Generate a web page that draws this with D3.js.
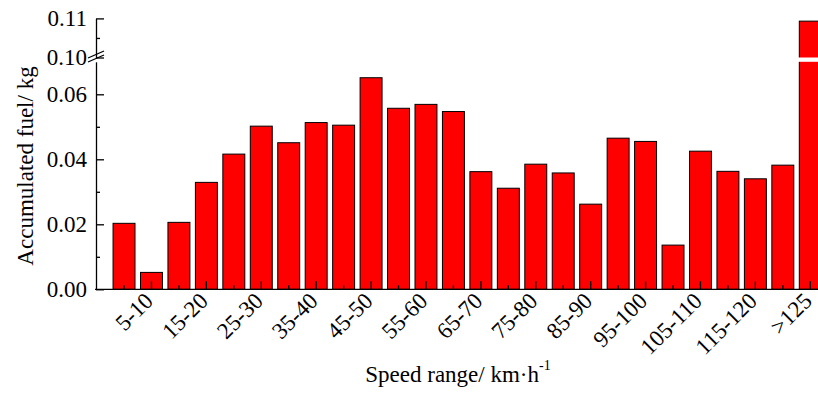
<!DOCTYPE html>
<html>
<head>
<meta charset="utf-8">
<script src="https://cdn.jsdelivr.net/npm/d3@7"></script>
<style>
    body { margin: 0; background: #fff; }
    svg { display: block; }
</style>
</head>
<body>
<script>
// speed bins and accumulated fuel (kg)
const categories = ["0-5", "5-10", "10-15", "15-20", "20-25", "25-30", "30-35", "35-40",
    "40-45", "45-50", "50-55", "55-60", "60-65", "65-70", "70-75", "75-80", "80-85",
    "85-90", "90-95", "95-100", "100-105", "105-110", "110-115", "115-120", "120-125", ">125"];
const fuel = [0.0203, 0.0052, 0.0206, 0.0329, 0.0416, 0.0502, 0.0451, 0.0513, 0.0505,
    0.0651, 0.0557, 0.0569, 0.0547, 0.0362, 0.0311, 0.0385, 0.0358, 0.0262, 0.0465,
    0.0455, 0.0136, 0.0425, 0.0363, 0.0340, 0.0382, 0.1093];

const lowerTicks = [0, 0.02, 0.04, 0.06];
const lowerMinor = [0.01, 0.03, 0.05];
const upperTicks = [0.10, 0.11];
const upperMinor = [0.105];

const width = 818;
const height = 397;
const font = "Liberation Serif";

let svg = d3.select("body")
    .append("svg")
    .attr("width", width)
    .attr("height", height);

let axisX = 96;
let baseY = 289.3;

let x = d3.scaleBand()
    .domain(categories)
    .range([110.3, 824])
    .paddingInner(0.2)
    .paddingOuter(0.1);

// broken y axis: two linear pieces
let yLow = d3.scaleLinear().domain([0, 0.07]).range([baseY, 61.8]);
let yHigh = d3.scaleLinear().domain([0.10, 0.11]).range([57.5, 18.4]);
let yPos = v => v <= 0.07 ? yLow(v) : yHigh(v);

let data = categories.map((c, i) => ({ cat: c, value: fuel[i] }));

svg.append("g")
    .selectAll("rect")
    .data(data)
    .join("rect")
    .attr("x", d => x(d.cat))
    .attr("y", d => yPos(d.value))
    .attr("width", x.bandwidth())
    .attr("height", d => baseY - yPos(d.value))
    .attr("fill", "#ff0000")
    .attr("stroke", "#000")
    .attr("stroke-width", 1);

// white band where the break cuts through tall bars
svg.append("g")
    .selectAll("rect")
    .data(data.filter(d => d.value > 0.07))
    .join("rect")
    .attr("x", d => x(d.cat) - 2)
    .attr("y", yHigh(0.10))
    .attr("width", x.bandwidth() + 4)
    .attr("height", yLow(0.07) - yHigh(0.10))
    .attr("fill", "#fff");

function styleAxis(g) {
    g.attr("font-family", font);
    g.selectAll("path, line").attr("stroke", "#000").attr("stroke-width", 1.3);
    g.selectAll("text").attr("font-family", font).attr("font-size", 23);
}

// left axis, lower part
svg.append("g")
    .attr("transform", `translate(${axisX},0)`)
    .call(d3.axisLeft(yLow).tickValues(lowerTicks).tickFormat(d3.format(".2f"))
        .tickSizeInner(-8).tickSizeOuter(0).tickPadding(9))
    .call(styleAxis);

svg.append("g")
    .attr("transform", `translate(${axisX},0)`)
    .call(d3.axisLeft(yLow).tickValues(lowerMinor).tickFormat("")
        .tickSizeInner(-4).tickSizeOuter(0))
    .call(styleAxis)
    .select(".domain").remove();

// left axis, upper part
svg.append("g")
    .attr("transform", `translate(${axisX},0)`)
    .call(d3.axisLeft(yHigh).tickValues(upperTicks).tickFormat(d3.format(".2f"))
        .tickSizeInner(-8).tickSizeOuter(0).tickPadding(9))
    .call(styleAxis);

svg.append("g")
    .attr("transform", `translate(${axisX},0)`)
    .call(d3.axisLeft(yHigh).tickValues(upperMinor).tickFormat("")
        .tickSizeInner(-4).tickSizeOuter(0))
    .call(styleAxis)
    .select(".domain").remove();

// break marks
let brk = svg.append("g");
[0, 4].forEach(off => {
    brk.append("line")
        .attr("x1", axisX - 8).attr("y1", 62 + off - 4)
        .attr("x2", axisX + 8).attr("y2", 55 + off - 4)
        .attr("stroke", "#000")
        .attr("stroke-width", 1.3);
});

// bottom axis
let labelled = categories.filter((c, i) => i % 2 === 1);
let unlabelled = categories.filter((c, i) => i % 2 === 0);

let bottom = svg.append("g")
    .attr("transform", `translate(0,${baseY})`)
    .call(d3.axisBottom(x).tickValues(labelled).tickSizeInner(-8).tickSizeOuter(0).tickPadding(0))
    .call(styleAxis);

bottom.select(".domain").attr("d", `M${axisX - 1},0H${width}`);

bottom.selectAll(".tick text")
    .attr("text-anchor", "end")
    .attr("dy", null)
    .attr("y", null)
    .attr("transform", "translate(3,13) rotate(-45)");

svg.append("g")
    .attr("transform", `translate(0,${baseY})`)
    .call(d3.axisBottom(x).tickValues(unlabelled).tickFormat("").tickSizeInner(-4).tickSizeOuter(0))
    .call(styleAxis)
    .select(".domain").remove();

// titles
svg.append("text")
    .attr("transform", "translate(33,166) rotate(-90)")
    .attr("text-anchor", "middle")
    .attr("font-family", font)
    .attr("font-size", 23)
    .text("Accumulated fuel/ kg");

let xt = svg.append("text")
    .attr("x", 458)
    .attr("y", 382)
    .attr("text-anchor", "middle")
    .attr("font-family", font)
    .attr("font-size", 23);
xt.append("tspan").text("Speed range/ km\u00b7h");
xt.append("tspan").attr("dy", -12).attr("font-size", 14).text("-1");
</script>
</body>
</html>
